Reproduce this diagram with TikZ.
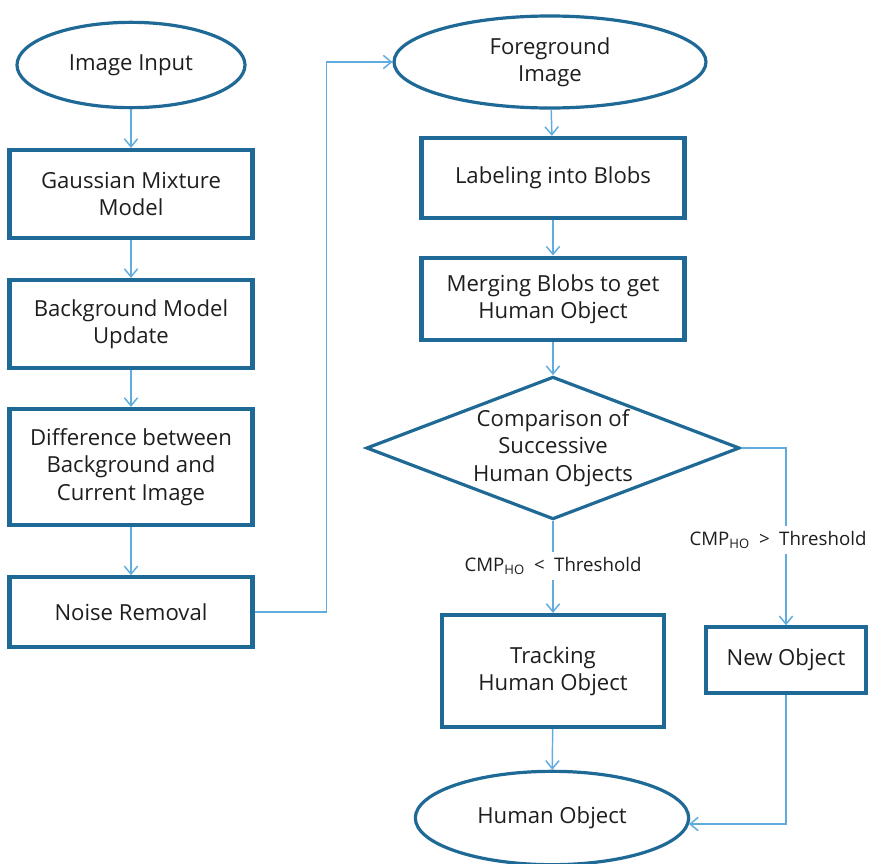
\documentclass[tikz,border=0pt]{standalone}
\usepackage{fontspec}
\setmainfont{Open Sans}
\usetikzlibrary{arrows.meta,shapes.geometric}
\definecolor{boxblue}{RGB}{31,105,150}
\definecolor{lineblue}{RGB}{96,172,222}
\definecolor{inkgray}{RGB}{30,30,30}
\newcommand*{\colw}{243}
\newcommand*{\rcolw}{263}

\begin{document}
\begin{tikzpicture}[x=0.75pt,y=-0.75pt,
    font=\fontsize{16.6}{20.6}\selectfont, text=inkgray,
    terminal/.style={ellipse, draw=boxblue, line width=2.4pt, inner sep=0pt, align=center},
    process/.style={rectangle, draw=boxblue, line width=3.2pt, inner sep=0pt, align=center},
    decision/.style={diamond, draw=boxblue, line width=2.4pt, inner sep=0pt, aspect=2.6, align=center},
    flow/.style={draw=lineblue, line width=1.1pt, -{Straight Barb[length=6pt,width=10pt]}},
    cond/.style={fill=white, inner sep=4pt, font=\fontsize{14}{17}\selectfont}]
    \useasboundingbox (0,0) rectangle (869,864);
    % left column
    \node [terminal, minimum width=171pt, minimum height=64pt] (input) at (131,65) {Image Input};
    \node [process, minimum width=\colw*0.75pt, minimum height=66pt] (gmm) at (131,194) {Gaussian Mixture\\Model};
    \node [process, minimum width=\colw*0.75pt, minimum height=66pt] (bgupdate) at (131,324) {Background Model\\Update};
    \node [process, minimum width=\colw*0.75pt, minimum height=87pt] (diff) at (131,467) {Difference between\\Background and\\Current Image};
    \node [process, minimum width=\colw*0.75pt, minimum height=52pt] (noise) at (131,612) {Noise Removal};
    % right column
    \node [terminal, minimum width=234pt, minimum height=69pt] (fg) at (550,62) {Foreground\\Image};
    \node [process, minimum width=\rcolw*0.75pt, minimum height=60pt] (labeling) at (553,178) {Labeling into Blobs};
    \node [process, minimum width=\rcolw*0.75pt, minimum height=62pt] (merge) at (553,299) {Merging Blobs to get\\Human Object};
    \node [decision, minimum width=280pt, minimum height=107pt] (compare) at (553,448) {Comparison of\\Successive\\Human Objects};
    \node [process, minimum width=167pt, minimum height=84pt] (track) at (553,671) {Tracking\\Human Object};
    \node [process, minimum width=120pt, minimum height=49pt] (newobj) at (786,660) {New Object};
    \node [terminal, minimum width=205pt, minimum height=70pt] (human) at (552,818) {Human Object};
    \coordinate (humanin) at (689,824);
    % connectors
    \draw [flow] (input) -- (gmm);
    \draw [flow] (gmm) -- (bgupdate);
    \draw [flow] (bgupdate) -- (diff);
    \draw [flow] (diff) -- (noise);
    \draw [flow] (noise.east) -- ++(72,0) |- (fg.west);
    \draw [flow] (fg) -- (labeling);
    \draw [flow] (labeling) -- (merge);
    \draw [flow] (merge) -- (compare);
    \draw [flow] (compare.south) -- node [cond, pos=0.49] {CMP\textsubscript{HO}\enspace<\enspace Threshold} (track.north);
    \draw [flow] (compare.east) -| node [cond, pos=0.76, xshift=-6] {CMP\textsubscript{HO}\enspace>\enspace Threshold} (newobj.north);
    \draw [flow] (track) -- (human);
    \draw [flow] (newobj.south) |- (humanin);
\end{tikzpicture}
\end{document}
